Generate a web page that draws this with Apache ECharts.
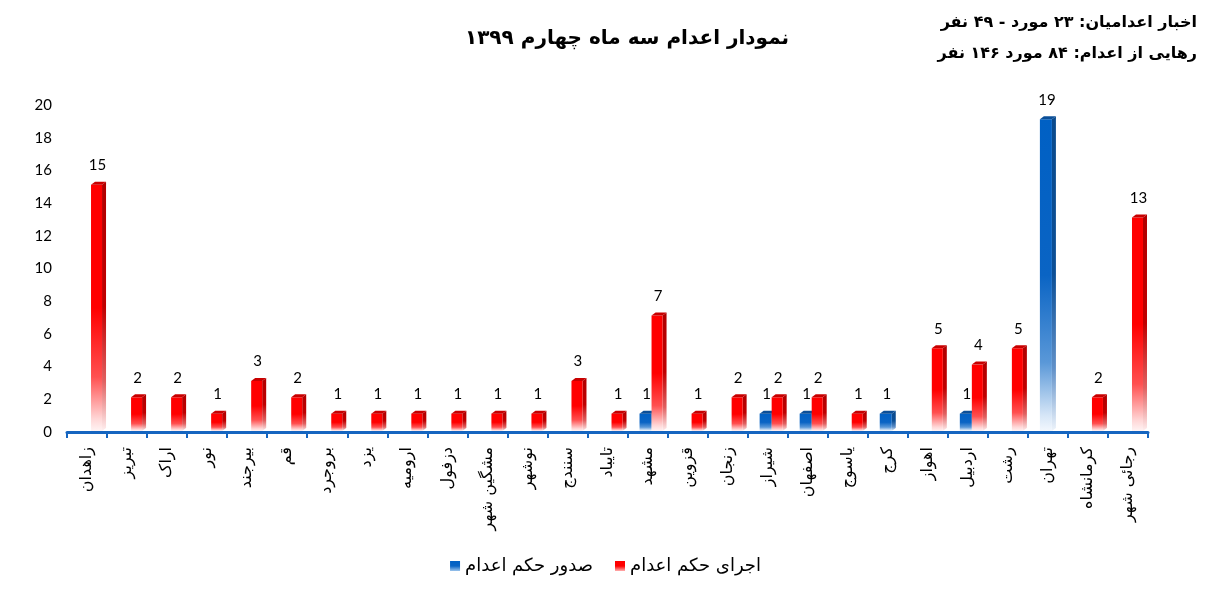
<!DOCTYPE html>
<html>
<head>
<meta charset="utf-8">
<script src="https://cdn.jsdelivr.net/npm/echarts@6/dist/echarts.min.js"></script>
<style>
html,body{margin:0;padding:0;background:#fff;}
#chart{width:1211px;height:602px;}
</style>
</head>
<body>
<div id="chart"></div>
<script>
const categories = ['زاهدان','تبریز','اراک','نور','بیرجند','قم','بروجرد','یزد','ارومیه','دزفول','مشگین شهر','نوشهر','سنندج','تایباد','مشهد','قزوین','زنجان','شیراز','اصفهان','یاسوج','کرج','اهواز','اردبیل','رشت','تهران','کرمانشاه','رجائی شهر'];
const executed = [15,2,2,1,3,2,1,1,1,1,1,1,3,1,7,1,2,2,2,1,null,5,4,5,null,2,13];
const sentenced = [null,null,null,null,null,null,null,null,null,null,null,null,null,null,1,null,null,1,1,null,1,null,1,null,19,null,null];
const seriesNames = ['صدور حکم اعدام','اجرای حکم اعدام'];
const yTicks = {min:0, max:20, interval:2};
const titleText = 'نمودار اعدام سه ماه چهارم ۱۳۹۹';
const noteLine1 = 'اخبار اعدامیان: ۲۳ مورد - ۴۹ نفر';
const noteLine2 = 'رهایی از اعدام: ۸۴ مورد ۱۴۶ نفر';

const G = echarts.graphic;
const palette = {
  red: {
    front: new G.LinearGradient(0,0,0,1,[{offset:0,color:'#ff0000'},{offset:0.5,color:'#ff0000'},{offset:0.78,color:'#ff5050'},{offset:0.95,color:'#ffd6d6'},{offset:1,color:'#fff4f4'}]),
    side: new G.LinearGradient(0,0,0,1,[{offset:0,color:'#b00000'},{offset:0.5,color:'#c00000'},{offset:0.8,color:'#e06060'},{offset:1,color:'#fff0f0'}]),
    top: '#c80000',
    legend: new G.LinearGradient(0,0,0,1,[{offset:0,color:'#ff0000'},{offset:0.5,color:'#ff0000'},{offset:1,color:'#ffb0b0'}])
  },
  blue: {
    front: new G.LinearGradient(0,0,0,1,[{offset:0,color:'#0060c4'},{offset:0.5,color:'#0a64c4'},{offset:0.78,color:'#5a98d8'},{offset:0.95,color:'#d6e6f7'},{offset:1,color:'#f2f7fd'}]),
    side: new G.LinearGradient(0,0,0,1,[{offset:0,color:'#0a4a8c'},{offset:0.5,color:'#0c4f96'},{offset:0.8,color:'#6090c8'},{offset:1,color:'#eef4fb'}]),
    top: '#0b4f98',
    legend: new G.LinearGradient(0,0,0,1,[{offset:0,color:'#0060c4'},{offset:0.5,color:'#0a64c4'},{offset:1,color:'#9cc4ec'}])
  }
};

function makeRender(isRed){
  const pal = isRed ? palette.red : palette.blue;
  return function(params, api){
    const idx = api.value(0), v = api.value(1);
    const top = api.coord([idx, v]);
    const base = api.coord([idx, 0]);
    const band = api.size([1,0])[0];
    const k = band/40;
    const x0 = top[0] + (isRed ? 4 : -8)*k;
    const w = (isRed ? 11 : 12)*k;
    const x1 = x0 + w;
    const dx = 4, dy = 3;
    const yT = top[1] - 2, yB = base[1] - 1;
    return {
      type:'group',
      children:[
        {type:'polygon', shape:{points:[[x1,yT],[x1+dx,yT-dy],[x1+dx,yB-dy],[x1,yB]]}, style:{fill:pal.side}},
        {type:'rect', shape:{x:x0,y:yT,width:w,height:yB-yT}, style:{fill:pal.front}},
        {type:'polygon', shape:{points:[[x0,yT],[x0+dx,yT-dy],[x1+dx,yT-dy],[x1,yT]]}, style:{fill:pal.top}},
        {type:'text', style:{text:String(v), x:(x0+x1)/2+1, y:yT-12, align:'center', verticalAlign:'bottom', font:'15px Lato', fill:'#000'}}
      ]
    };
  };
}

function toData(arr){
  const out = [];
  arr.forEach((v,i)=>{ if(v!==null && v!==undefined) out.push([i,v]); });
  return out;
}

const chart = echarts.init(document.getElementById('chart'));
chart.setOption({
  backgroundColor:'#ffffff',
  animation:false,
  title:[
    {text:titleText, left:622, top:24, textAlign:'center', textStyle:{fontFamily:'DejaVu Sans', fontWeight:'bold', fontSize:20, color:'#000'}},
    {text:noteLine1, right:9, top:10, textStyle:{fontFamily:'DejaVu Sans', fontWeight:'bold', fontSize:16, color:'#000'}},
    {text:noteLine2, right:9, top:41, textStyle:{fontFamily:'DejaVu Sans', fontWeight:'bold', fontSize:16, color:'#000'}}
  ],
  legend:{
    bottom:22, left:'center', itemWidth:10, itemHeight:10, itemGap:22, icon:'rect',
    textStyle:{fontFamily:'DejaVu Sans', fontSize:18, color:'#000'},
    data:[{name:seriesNames[0], itemStyle:{color:palette.blue.legend}},{name:seriesNames[1], itemStyle:{color:palette.red.legend}}]
  },
  grid:{left:67, right:63, top:105, bottom:170},
  xAxis:{
    type:'category', data:categories,
    axisLine:{lineStyle:{color:'#1565c0', width:3}},
    axisTick:{show:true, length:6, lineStyle:{color:'#1565c0', width:2}},
    axisLabel:{rotate:90, interval:0, margin:15, fontFamily:'DejaVu Sans', fontSize:16, color:'#000'}
  },
  yAxis:{
    type:'value', min:yTicks.min, max:yTicks.max, interval:yTicks.interval,
    axisLine:{show:false}, axisTick:{show:false}, splitLine:{show:false},
    axisLabel:{margin:15, fontFamily:'Lato', fontSize:15, color:'#000'}
  },
  series:[
    {name:seriesNames[0], type:'custom', renderItem:makeRender(false), data:toData(sentenced), encode:{x:0,y:1}, itemStyle:{color:palette.blue.legend}, z:2},
    {name:seriesNames[1], type:'custom', renderItem:makeRender(true), data:toData(executed), encode:{x:0,y:1}, itemStyle:{color:palette.red.legend}, z:3}
  ]
});
</script>
</body>
</html>
